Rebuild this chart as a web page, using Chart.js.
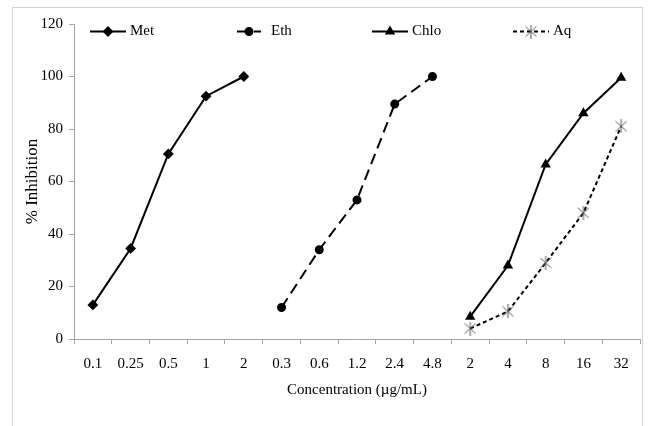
<!DOCTYPE html>
<html>
<head>
<meta charset="utf-8">
<script src="https://cdn.jsdelivr.net/npm/chart.js@4/dist/chart.umd.min.js"></script>
<style>
  html, body { margin: 0; padding: 0; background: #fff; }
</style>
</head>
<body>
<canvas id="inhibitionChart" width="648" height="426"></canvas>
<script>
const concentrations = ["0.1", "0.25", "0.5", "1", "2", "0.3", "0.6", "1.2", "2.4", "4.8", "2", "4", "8", "16", "32"];
const metValues = [13, 34.5, 70.5, 92.5, 100, null, null, null, null, null, null, null, null, null, null];
const ethValues = [null, null, null, null, null, 12, 34, 53, 89.5, 100, null, null, null, null, null];
const chloValues = [null, null, null, null, null, null, null, null, null, null, 8.5, 28, 66.5, 86, 99.5];
const aqValues = [null, null, null, null, null, null, null, null, null, null, 4, 10.5, 29, 48, 81];
const yTickValues = [0, 20, 40, 60, 80, 100, 120];

const serif = '"Liberation Serif", "Times New Roman", serif';
const axisGray = "#a6a6a6";

// gray asterisk marker used by the Aq series
function makeAsterisk() {
  const c = document.createElement("canvas");
  c.width = 12;
  c.height = 14;
  const g = c.getContext("2d");
  g.strokeStyle = "#5a5a5a";
  g.lineWidth = 1;
  g.beginPath();
  g.moveTo(6, 0); g.lineTo(6, 14);
  g.moveTo(0.5, 2); g.lineTo(11.5, 12);
  g.moveTo(11.5, 2); g.lineTo(0.5, 12);
  g.stroke();
  return c;
}
const asterisk = makeAsterisk();

// outer frame around the whole figure
const framePlugin = {
  id: "frame",
  beforeDraw(chart) {
    const ctx = chart.ctx;
    ctx.save();
    ctx.strokeStyle = "#d4d4d4";
    ctx.lineWidth = 1;
    ctx.strokeRect(12.5, 7.5, 630, 440);
    ctx.restore();
  },
};

// legend drawn inside the plot, line sample + marker + label
const lineLegend = {
  id: "lineLegend",
  afterDraw(chart) {
    const { ctx, chartArea } = chart;
    ctx.save();
    chart.data.datasets.forEach((ds, i) => {
      const x0 = chartArea.left + 16 + i * 141;
      const y = chartArea.top + 7.5;
      const span = ds.legendSpan || [0, 36];
      ctx.strokeStyle = ds.borderColor;
      ctx.lineWidth = ds.borderWidth;
      ctx.setLineDash(ds.borderDash || []);
      ctx.beginPath();
      ctx.moveTo(x0 + span[0], y);
      ctx.lineTo(x0 + span[1], y);
      ctx.stroke();
      ctx.setLineDash([]);
      ctx.fillStyle = ds.pointBackgroundColor;
      ctx.strokeStyle = ds.pointBorderColor;
      Chart.helpers.drawPoint(ctx, { pointStyle: ds.pointStyle, radius: ds.pointRadius, borderWidth: 1, rotation: 0 }, x0 + 18, y);
      ctx.fillStyle = "#000";
      ctx.font = "15px " + serif;
      ctx.textBaseline = "middle";
      ctx.fillText(ds.label, x0 + 40, y);
    });
    ctx.restore();
  },
};

const ctx = document.getElementById("inhibitionChart").getContext("2d");
new Chart(ctx, {
  type: "line",
  data: {
    labels: concentrations,
    datasets: [
      {
        label: "Met",
        data: metValues,
        borderColor: "#000",
        borderWidth: 2,
        pointStyle: "rectRot",
        pointRadius: 4,
        pointBackgroundColor: "#000",
        pointBorderColor: "#000",
      },
      {
        label: "Eth",
        data: ethValues,
        borderColor: "#000",
        borderWidth: 2,
        borderDash: [11, 6],
        legendSpan: [6, 30],
        pointStyle: "circle",
        pointRadius: 3.5,
        pointBackgroundColor: "#000",
        pointBorderColor: "#000",
      },
      {
        label: "Chlo",
        data: chloValues,
        borderColor: "#000",
        borderWidth: 2,
        pointStyle: "triangle",
        pointRadius: 4,
        pointBackgroundColor: "#000",
        pointBorderColor: "#000",
      },
      {
        label: "Aq",
        data: aqValues,
        borderColor: "#000",
        borderWidth: 2,
        borderDash: [4, 3],
        pointStyle: asterisk,
        pointRadius: 6,
        pointBackgroundColor: "#5a5a5a",
        pointBorderColor: "#5a5a5a",
      },
    ],
  },
  options: {
    responsive: false,
    animation: false,
    layout: { padding: { left: 0, top: 24, right: 7, bottom: 0 } },
    plugins: {
      legend: { display: false },
      tooltip: { enabled: false },
    },
    scales: {
      x: {
        offset: true,
        afterFit: (scale) => { scale.height = 87; },
        grid: { offset: true, drawOnChartArea: false, tickLength: 5, color: axisGray },
        border: { color: axisGray },
        ticks: { color: "#000", font: { family: serif, size: 15 }, padding: 11, maxRotation: 0, autoSkip: false },
        title: {
          display: true,
          text: "Concentration (µg/mL)",
          color: "#000",
          font: { family: serif, size: 15 },
          padding: { top: 0, bottom: 27 },
        },
      },
      y: {
        min: 0,
        max: 120,
        afterFit: (scale) => { scale.width = 74; },
        afterBuildTicks: (scale) => { scale.ticks = yTickValues.map((v) => ({ value: v })); },
        grid: { drawOnChartArea: false, tickLength: 5, color: axisGray },
        border: { color: axisGray },
        ticks: { color: "#000", font: { family: serif, size: 15 }, padding: 6 },
        title: {
          display: true,
          text: "% Inhibition",
          color: "#000",
          font: { family: serif, size: 17 },
          padding: { top: 22, bottom: 0 },
        },
      },
    },
  },
  plugins: [framePlugin, lineLegend],
});
</script>
</body>
</html>
